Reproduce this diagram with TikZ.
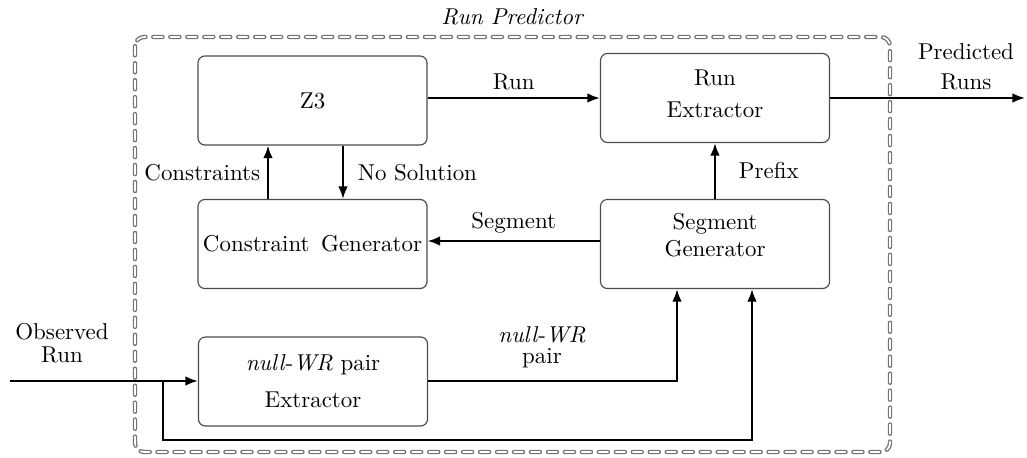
\documentclass[tikz,border=0pt]{standalone}
\usetikzlibrary{arrows.meta}
\begin{document}
\begin{tikzpicture}[x=0.436pt,y=-0.436pt,
  box/.style={draw=black!70,rounded corners=3pt,line width=0.5pt,
    minimum width=229*0.436pt,minimum height=89*0.436pt,inner sep=0pt},
  txt/.style={align=center,inner sep=0pt},
  flow/.style={line width=0.9pt,-{Latex[length=5.5pt,width=4.2pt]}},
  frameout/.style={draw=black!55,line width=1.9pt,line cap=round,
    dash pattern=on 4pt off 3.4pt,rounded corners=4pt},
  framein/.style={draw=white,line width=0.75pt,line cap=round,
    dash pattern=on 4pt off 3.4pt,rounded corners=4pt}]
\useasboundingbox (0,0) rectangle (1027,457);
% outer frame of the predictor: hollow dashes
\draw[frameout] (135,37) rectangle (890,452);
\draw[framein] (135,37) rectangle (890,452);
\node[txt,font=\itshape] (title) at (512,17) {Run Predictor};
% blocks
\node[box] (z3) at (312.5,100.5) {Z3};
\node[box] (re) at (715,98) {};
\node[txt] (retext) at (715,94) {Run\\[2pt]Extractor};
\node[box] (sg) at (715,244) {};
\node[txt] (sgtext) at (715,235) {Segment\\Generator};
\node[box] (cg) at (312.5,244) {Constraint\hspace{5pt}Generator};
\node[box] (nw) at (313,381.5) {};
\node[txt] (nwtext) at (313,381) {\textit{null}-\textit{WR} pair\\[4pt]Extractor};
% free ends
\coordinate (in) at (10,381);
\coordinate (out) at (1025,98);
\coordinate (split) at (163,381);
% connectors
\draw[flow] (z3.east |- re.west) -- node[txt,above=3pt] (lrun) {Run} (re.west);
\draw[flow] (re.east) -- (out);
\node[txt] (lpred) at (966,67) {Predicted\\[1pt]Runs};
\draw[flow] (sg.north) -- node[txt,right=10pt] (lprefix) {Prefix} (re.south);
\draw[flow] (sg.west |- 0,241) -- node[txt,above=3pt] (lseg) {Segment} (cg.east |- 0,241);
\draw[flow] (cg.north -| 268,0) -- node[txt,left=3pt] (lcons) {Constraints} (z3.south -| 268,0);
\draw[flow] (z3.south -| 343,0) -- node[txt,right=6pt] (lnosol) {No Solution} (cg.north -| 343,0);
\draw[flow] (in) -- (nw.west |- in);
\node[txt] (lobs) at (62,343) {Observed\\[-2pt]Run};
\draw[flow] (nw.east |- in) -| (sg.south -| 677,0);
\node[txt] (lpair) at (542,347) {\textit{null}-\textit{WR}\\[-3pt]pair};
\draw[flow] (split) |- (752,440) -- (sg.south -| 752,0);
\end{tikzpicture}
\end{document}
